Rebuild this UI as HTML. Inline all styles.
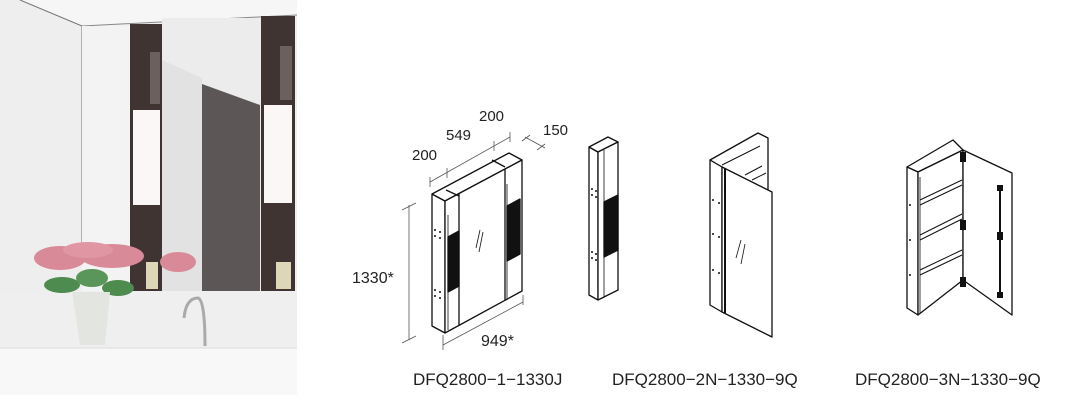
<!DOCTYPE html>
<html><head><meta charset="utf-8"><style>
html,body{margin:0;padding:0;background:#fff;}
svg{display:block;}
text{font-family:"Liberation Sans",sans-serif;fill:#222;}
</style></head><body>
<svg width="1080" height="411" viewBox="0 0 1080 411" xmlns="http://www.w3.org/2000/svg">
<!-- photo -->
<rect x="0" y="0" width="297" height="395" fill="#f0f0f0"/>
<polygon points="0,0 82,0 82,395 0,395" fill="#eeeeee"/>
<polygon points="20,0 297,0 297,15 82,26" fill="#f6f6f6"/>
<line x1="20" y1="0" x2="82" y2="26" stroke="#777" stroke-width="1"/>
<line x1="82" y1="26" x2="297" y2="15" stroke="#888" stroke-width="1"/>
<line x1="82" y1="26" x2="82" y2="245" stroke="#777" stroke-width="1"/>
<rect x="82" y="26" width="48" height="265" fill="#f3f3f3"/>
<!-- mirror -->
<rect x="130" y="24" width="33" height="267" fill="#3f3432"/>
<rect x="133" y="110" width="27" height="95" fill="#fbf7f7"/>
<rect x="162" y="18" width="99" height="273" fill="#ececec"/>
<polygon points="162,60 202,78 202,291 162,291" fill="#e2e2e2"/>
<polygon points="202,84 260,105 260,291 202,291" fill="#5c5656"/>
<rect x="261" y="16" width="34" height="275" fill="#3f3432"/>
<rect x="264" y="105" width="28" height="98" fill="#fbf7f7"/>
<rect x="150" y="52" width="10" height="52" fill="#6b605c"/>
<rect x="280" y="46" width="12" height="54" fill="#6b605c"/>
<rect x="146" y="262" width="12" height="27" fill="#ddd7b8"/>
<rect x="276" y="262" width="15" height="27" fill="#ddd7b8"/>
<!-- counter area -->
<rect x="0" y="291" width="297" height="57" fill="#efefef"/>
<rect x="0" y="348" width="297" height="47" fill="#f8f8f8"/>
<line x1="0" y1="348" x2="297" y2="348" stroke="#ddd"/>
<!-- faucet -->
<path d="M184,318 Q186,298 198,298 Q205,300 205,346" stroke="#aaa" stroke-width="3" fill="none"/>
<!-- flowers -->
<ellipse cx="60" cy="258" rx="26" ry="12" fill="#d98a98"/>
<ellipse cx="112" cy="256" rx="32" ry="12" fill="#d98a98"/>
<ellipse cx="88" cy="250" rx="25" ry="8" fill="#e096a3"/>
<ellipse cx="178" cy="262" rx="18" ry="10" fill="#d98a98"/>
<ellipse cx="62" cy="285" rx="18" ry="8" fill="#4e8b4f"/>
<ellipse cx="118" cy="288" rx="16" ry="8" fill="#4e8b4f"/>
<ellipse cx="92" cy="278" rx="16" ry="9" fill="#5a965a"/>
<polygon points="72,292 110,292 105,345 80,345" fill="#e3e6e0"/>
<!-- dimension lines cabinet 1 -->
<g stroke="#555" stroke-width="0.8" fill="none">
<line x1="409" y1="205" x2="409" y2="340"/>
<line x1="402" y1="210" x2="416" y2="203"/>
<line x1="402" y1="343" x2="416" y2="336"/>
<line x1="443" y1="345" x2="523" y2="302"/>
<line x1="443" y1="335" x2="443" y2="350"/>
<line x1="523" y1="295" x2="523" y2="305"/>
<line x1="430" y1="182" x2="510" y2="137"/>
<line x1="430" y1="177" x2="430" y2="187"/>
<line x1="447" y1="168" x2="447" y2="178"/>
<line x1="494" y1="141" x2="494" y2="151"/>
<line x1="510" y1="132" x2="510" y2="142"/>
<line x1="525" y1="137" x2="545" y2="148"/>
<line x1="522" y1="141" x2="530" y2="135"/>
<line x1="537" y1="150" x2="545" y2="144"/>
</g>
<text x="352" y="283" font-size="16">1330*</text>
<text x="481" y="346" font-size="16">949*</text>
<text x="412" y="160" font-size="15">200</text>
<text x="446" y="140" font-size="15">549</text>
<text x="479" y="121" font-size="15">200</text>
<text x="543" y="135" font-size="15">150</text>
<!-- cabinet 1 -->
<g stroke="#111" stroke-width="1.3" fill="#fff" stroke-linejoin="round">
<polygon points="432,194 445,201 445,333 432,326"/>
<polygon points="432,194 509,153 522,160 445,201"/>
<polygon points="445,201 522,160 522,291 445,333"/>
<line x1="459" y1="194" x2="459" y2="326"/>
<line x1="505" y1="169" x2="505" y2="300"/>
<line x1="446" y1="190" x2="459" y2="196"/>
<line x1="492" y1="160" x2="505" y2="167"/>
<polygon points="448,237 459,231 459,286 448,292" fill="#111"/>
<polygon points="507,206 520,199 520,254 507,261" fill="#111"/>
<line x1="448" y1="215" x2="448" y2="330" stroke-width="0.8"/>
<line x1="507" y1="184" x2="507" y2="300" stroke-width="0.8"/>
<line x1="480" y1="230" x2="476" y2="248" stroke-width="0.8"/>
<line x1="483" y1="232" x2="479" y2="252" stroke-width="0.8"/>
</g>
<g fill="#111">
<circle cx="435" cy="230" r="1"/><circle cx="440" cy="232" r="1"/><circle cx="435" cy="236" r="1"/><circle cx="440" cy="238" r="1"/>
<circle cx="435" cy="290" r="1"/><circle cx="440" cy="292" r="1"/><circle cx="435" cy="296" r="1"/><circle cx="440" cy="298" r="1"/>
</g>
<!-- cabinet 2 -->
<g stroke="#111" stroke-width="1.3" fill="#fff" stroke-linejoin="round">
<polygon points="589,147 598,152 598,300 589,295"/>
<polygon points="589,147 608,137 618,142 598,152"/>
<polygon points="598,152 618,142 618,290 598,300"/>
<line x1="604" y1="150" x2="604" y2="297" stroke-width="0.8"/>
<polygon points="604,202 618,195 618,250 604,257" fill="#111"/>
</g>
<g fill="#111"><circle cx="592" cy="189" r="1"/><circle cx="596" cy="191" r="1"/><circle cx="592" cy="195" r="1"/><circle cx="596" cy="197" r="1"/><circle cx="592" cy="252" r="1"/><circle cx="596" cy="254" r="1"/><circle cx="592" cy="258" r="1"/><circle cx="596" cy="260" r="1"/></g>
<!-- cabinet 3 -->
<g stroke="#111" stroke-width="1.3" fill="#fff" stroke-linejoin="round">
<polygon points="710,160 758,133 768,138 768,192 722,167"/>
<polygon points="710,160 722,167 722,312 710,305"/>
<polygon points="722,167 772,192 772,337 722,312"/>
<line x1="725" y1="168" x2="725" y2="313" stroke-width="2"/>
<line x1="722" y1="165" x2="760" y2="146" stroke-width="1"/>
<line x1="745" y1="175" x2="762" y2="166" stroke-width="1"/>
<line x1="752" y1="180" x2="766" y2="173" stroke-width="1"/>
<line x1="741" y1="240" x2="736" y2="258" stroke-width="0.8"/>
<line x1="745" y1="244" x2="741" y2="264" stroke-width="0.8"/>
</g>
<g fill="#111"><circle cx="713" cy="200" r="1"/><circle cx="719" cy="203" r="1"/><circle cx="713" cy="234" r="1"/><circle cx="719" cy="237" r="1"/><circle cx="713" cy="270" r="1"/><circle cx="719" cy="273" r="1"/></g>
<!-- cabinet 4 -->
<g stroke="#111" stroke-width="1.3" fill="#fff" stroke-linejoin="round">
<polygon points="907,167 953,140 963,150 918,172"/>
<polygon points="907,167 918,172 918,315 907,308"/>
<polygon points="918,172 963,150 963,280 918,315"/>
<line x1="920" y1="177" x2="920" y2="313" stroke-width="0.8"/>
<polygon points="963,150 1012,173 1012,315 963,280"/>
<line x1="920" y1="200" x2="962" y2="180" stroke-width="1"/>
<line x1="920" y1="205" x2="962" y2="185" stroke-width="1"/>
<line x1="920" y1="235" x2="962" y2="214" stroke-width="1"/>
<line x1="920" y1="240" x2="962" y2="219" stroke-width="1"/>
<line x1="920" y1="270" x2="962" y2="250" stroke-width="1"/>
<line x1="920" y1="275" x2="962" y2="255" stroke-width="1"/>
<line x1="1000" y1="187" x2="1000" y2="297" stroke-width="2"/>
</g>
<g fill="#111">
<rect x="960" y="152" width="6" height="10"/><rect x="960" y="220" width="6" height="10"/><rect x="960" y="277" width="6" height="10"/>
<rect x="997" y="185" width="6" height="6"/><rect x="997" y="232" width="6" height="8"/><rect x="997" y="292" width="6" height="6"/>
<circle cx="910" cy="205" r="1"/><circle cx="910" cy="240" r="1"/><circle cx="910" cy="275" r="1"/>
</g>
<!-- labels -->
<text x="413" y="385" font-size="17">DFQ2800−1−1330J</text>
<text x="612" y="385" font-size="17">DFQ2800−2N−1330−9Q</text>
<text x="855" y="385" font-size="17">DFQ2800−3N−1330−9Q</text>
</svg>
</body></html>
